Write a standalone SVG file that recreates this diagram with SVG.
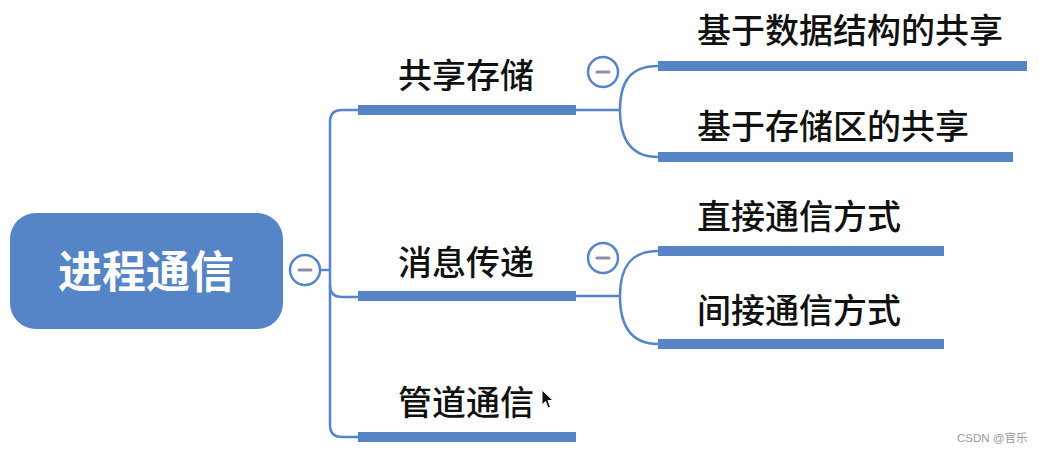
<svg xmlns="http://www.w3.org/2000/svg" width="1039" height="453" viewBox="0 0 1039 453">
<style>
.bar{fill:#5585c6}
.ln{fill:none;stroke:#5585c6;stroke-width:2.5}
.lbl{font-family:"Noto Sans CJK SC","Noto Sans",sans-serif;font-size:34px;font-weight:500;fill:#111}
.col circle{fill:#fff;stroke:#5585c6;stroke-width:2.5}
.col line{stroke:#8a8ea8;stroke-width:3;stroke-linecap:round}
</style>
<rect width="1039" height="453" fill="#fff"/>
<g id="connectors">
<path class="ln" d="M320,270 H330"/>
<path class="ln" d="M358,110 H342 Q330,110 330,122 V425 Q330,437 342,437 H358"/>
<path class="ln" d="M330,285 Q330,297 342,297 H358"/>
<path class="ln" d="M576,110 H620 M620,110 C620,82 630,66 658,66 M620,110 C620,138 630,157 658,157"/>
<path class="ln" d="M576,296 H620 M620,296 C620,268 630,251 658,251 M620,296 C620,324 630,344 658,344"/>
</g>
<g id="root">
<rect x="10" y="213" width="273" height="116" rx="26" fill="#5585c6"/>
<text x="146" y="288" text-anchor="middle" font-family="Noto Sans CJK SC,sans-serif" font-weight="bold" font-size="44" fill="#fff">进程通信</text>
<g class="col"><circle cx="305" cy="270" r="15"/><line x1="299" y1="270" x2="311" y2="270"/></g>
</g>
<g id="n-shared">
<rect class="bar" x="358" y="105" width="218" height="10"/>
<text class="lbl" x="398" y="88">共享存储</text>
<g class="col"><circle cx="603" cy="72" r="15"/><line x1="597" y1="72" x2="609" y2="72"/></g>
</g>
<g id="n-ds">
<rect class="bar" x="658" y="61" width="369" height="10"/>
<text class="lbl" x="697" y="43">基于数据结构的共享</text>
</g>
<g id="n-area">
<rect class="bar" x="658" y="152" width="355" height="10"/>
<text class="lbl" x="697" y="139">基于存储区的共享</text>
</g>
<g id="n-msg">
<rect class="bar" x="358" y="291" width="218" height="10"/>
<text class="lbl" x="398" y="275">消息传递</text>
<g class="col"><circle cx="603" cy="258" r="15"/><line x1="597" y1="258" x2="609" y2="258"/></g>
</g>
<g id="n-direct">
<rect class="bar" x="658" y="246" width="286" height="10"/>
<text class="lbl" x="697" y="229">直接通信方式</text>
</g>
<g id="n-indirect">
<rect class="bar" x="658" y="339" width="286" height="10"/>
<text class="lbl" x="697" y="323">间接通信方式</text>
</g>
<g id="n-pipe">
<rect class="bar" x="358" y="432" width="218" height="10"/>
<text class="lbl" x="398" y="415">管道通信</text>
</g>
<path d="M542,390 L542,405 L545.5,401.5 L548,408 L550.5,407 L548,400.5 L553,400.5 Z" fill="#111" stroke="#fff" stroke-width="1"/>
<text x="957" y="442" font-family="Liberation Sans,Noto Sans CJK SC,sans-serif" font-size="11.5" fill="#999">CSDN @官乐</text>
</svg>
